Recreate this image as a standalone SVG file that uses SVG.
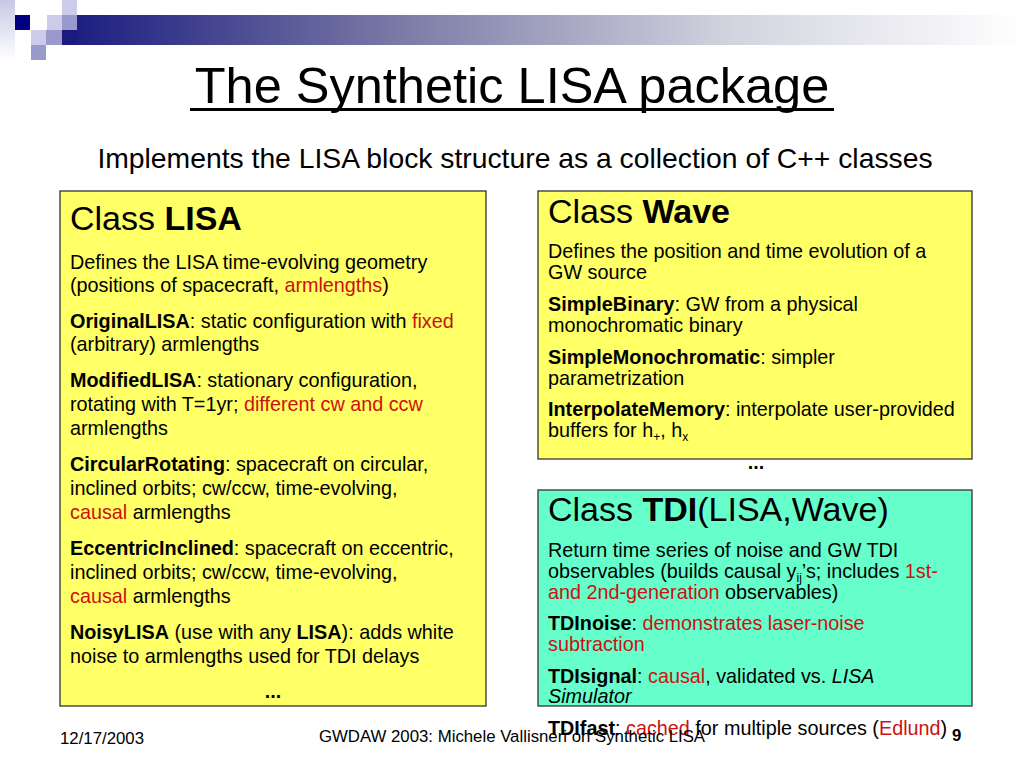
<svg xmlns="http://www.w3.org/2000/svg" width="1024" height="768" viewBox="0 0 1024 768">
<defs>
<linearGradient id="bar" x1="0" y1="0" x2="1" y2="0">
<stop offset="0" stop-color="#1a1a80"/>
<stop offset="0.35" stop-color="#7a7aa6"/>
<stop offset="0.7" stop-color="#d4d4e0"/>
<stop offset="1" stop-color="#ffffff"/>
</linearGradient>
<linearGradient id="strip" x1="0" y1="0" x2="0" y2="1">
<stop offset="0" stop-color="#c8c8e4"/>
<stop offset="1" stop-color="#ffffff"/>
</linearGradient>
<style>
text{font-family:"Liberation Sans",Arial,sans-serif;fill:#000}
.b{font-weight:bold}
.r{fill:#cc1111}
.i{font-style:italic}
.body{font-size:19.8px}
.head{font-size:34px}
.box{stroke:#333;stroke-width:1.3}
.yel{fill:#ffff66}
.aqu{fill:#66ffcc}
.foot{font-size:16.8px}
</style>
</defs>
<rect width="1024" height="768" fill="#fff"/>
<g id="decor">
<rect x="0" y="0" width="15" height="60" fill="url(#strip)"/>
<rect x="62" y="15" width="962" height="30" fill="url(#bar)"/>
<rect x="15" y="15" width="15" height="15" fill="#000080"/>
<rect x="47" y="15" width="15" height="15" fill="#ccccea"/>
<rect x="62" y="0" width="15" height="15" fill="#ccccea"/>
<rect x="62" y="15" width="15" height="15" fill="#9999cc"/>
<rect x="62" y="30" width="15" height="15" fill="#1a1a80"/>
<rect x="31" y="30" width="15" height="15" fill="#ccccea"/>
<rect x="46" y="30" width="16" height="15" fill="#9999cc"/>
<rect x="31" y="45" width="15" height="15" fill="#9999cc"/>
</g>
<g id="title">
<text x="512" y="103" font-size="50.5" text-anchor="middle">The Synthetic LISA package</text>
<rect x="190" y="108" width="644" height="3" fill="#000"/>
<text x="515" y="168" font-size="28.3" text-anchor="middle">Implements the LISA block structure as a collection of C++ classes</text>
</g>
<g id="connectors"></g>
<g id="lisa">
<rect class="box yel" x="60" y="191" width="426" height="515"/>
<text class="head" x="70" y="230">Class <tspan class="b">LISA</tspan></text>
<text class="body" x="70" y="269">Defines the LISA time-evolving geometry</text>
<text class="body" x="70" y="292">(positions of spacecraft, <tspan class="r">armlengths</tspan>)</text>
<text class="body" x="70" y="328"><tspan class="b">OriginalLISA</tspan>: static configuration with <tspan class="r">fixed</tspan></text>
<text class="body" x="70" y="351">(arbitrary) armlengths</text>
<text class="body" x="70" y="387"><tspan class="b">ModifiedLISA</tspan>: stationary configuration,</text>
<text class="body" x="70" y="411">rotating with T=1yr; <tspan class="r">different cw and ccw</tspan></text>
<text class="body" x="70" y="435">armlengths</text>
<text class="body" x="70" y="471"><tspan class="b">CircularRotating</tspan>: spacecraft on circular,</text>
<text class="body" x="70" y="495">inclined orbits; cw/ccw, time-evolving,</text>
<text class="body" x="70" y="519"><tspan class="r">causal</tspan> armlengths</text>
<text class="body" x="70" y="555"><tspan class="b">EccentricInclined</tspan>: spacecraft on eccentric,</text>
<text class="body" x="70" y="579">inclined orbits; cw/ccw, time-evolving,</text>
<text class="body" x="70" y="603"><tspan class="r">causal</tspan> armlengths</text>
<text class="body" x="70" y="639"><tspan class="b">NoisyLISA</tspan> (use with any <tspan class="b">LISA</tspan>): adds white</text>
<text class="body" x="70" y="663">noise to armlengths used for TDI delays</text>
<text class="body b" x="273" y="698" text-anchor="middle">...</text>
</g>
<g id="wave">
<rect class="box yel" x="538" y="191" width="434" height="268"/>
<text class="head" x="548" y="223">Class <tspan class="b">Wave</tspan></text>
<text class="body" x="548" y="258">Defines the position and time evolution of a</text>
<text class="body" x="548" y="279">GW source</text>
<text class="body" x="548" y="311"><tspan class="b">SimpleBinary</tspan>: GW from a physical</text>
<text class="body" x="548" y="332">monochromatic binary</text>
<text class="body" x="548" y="364"><tspan class="b">SimpleMonochromatic</tspan>: simpler</text>
<text class="body" x="548" y="385">parametrization</text>
<text class="body" x="548" y="416"><tspan class="b">InterpolateMemory</tspan>: interpolate user-provided</text>
<text class="body" x="548" y="437">buffers for h<tspan font-size="12" dy="4">+</tspan><tspan dy="-4">, h</tspan><tspan font-size="12" dy="4">x</tspan></text>
<text class="body b" x="756" y="469" text-anchor="middle">...</text>
</g>
<g id="tdi">
<rect class="box aqu" x="538" y="490" width="434" height="216"/>
<text class="head" x="548" y="521">Class <tspan class="b">TDI</tspan>(LISA,Wave)</text>
<text class="body" x="548" y="557">Return time series of noise and GW TDI</text>
<text class="body" x="548" y="578">observables (builds causal y<tspan font-size="12" dy="4">ij</tspan><tspan dy="-4">’s; includes </tspan><tspan class="r">1st-</tspan></text>
<text class="body" x="548" y="599"><tspan class="r">and 2nd-generation</tspan> observables)</text>
<text class="body" x="548" y="630"><tspan class="b">TDInoise</tspan>: <tspan class="r">demonstrates laser-noise</tspan></text>
<text class="body r" x="548" y="651">subtraction</text>
<text class="body" x="548" y="683"><tspan class="b">TDIsignal</tspan>: <tspan class="r">causal</tspan>, validated vs. <tspan class="i">LISA</tspan></text>
<text class="body i" x="548" y="703">Simulator</text>
<text class="body" x="548" y="735"><tspan class="b">TDIfast</tspan>: <tspan class="r">cached </tspan>for multiple sources (<tspan class="r">Edlund</tspan>)</text>
</g>
<g id="footer">
<text class="foot" x="60" y="744">12/17/2003</text>
<text class="foot" x="512" y="742" text-anchor="middle">GWDAW 2003: Michele Vallisneri on Synthetic LISA</text>
<text class="foot b" x="952" y="741">9</text>
</g>
</svg>
